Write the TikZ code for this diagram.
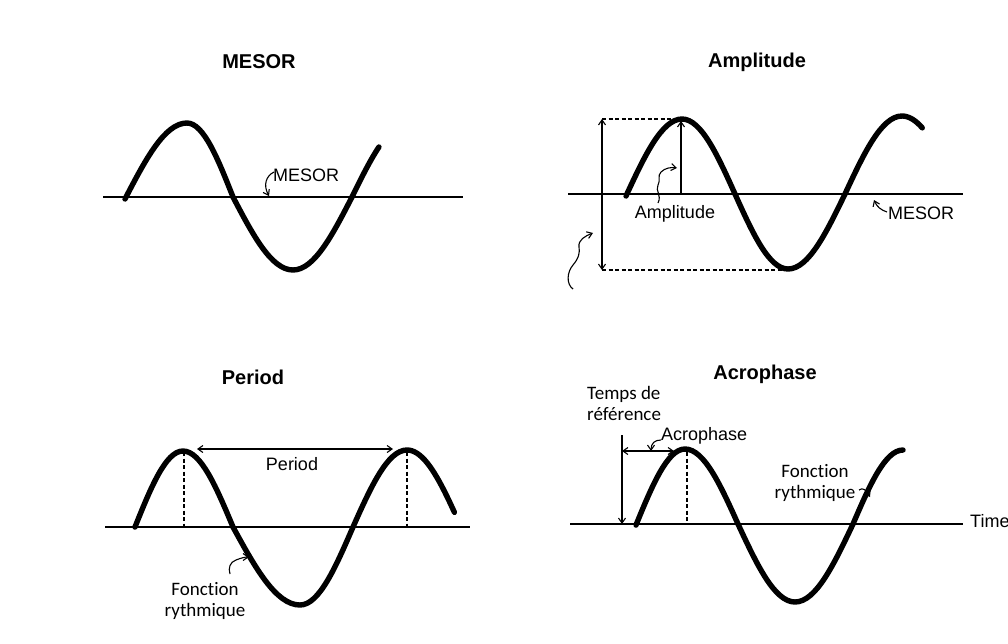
\documentclass[tikz,border=0pt]{standalone}
\usepackage{fontspec}
\setmainfont{Liberation Sans}
\newfontfamily\calfont[Ligatures={NoCommon,NoDiscretionary,NoRare}]{Carlito}
\usetikzlibrary{arrows.meta}
\tikzset{
  wave/.style={line width=5.4pt, line cap=round, line join=round},
  axisline/.style={line width=1.3pt},
  dimline/.style={line width=1.1pt},
  dashline/.style={line width=1.1pt, dash pattern=on 4pt off 2.5pt},
  tip/.style={-{Straight Barb[length=5pt,width=7pt,line width=1.1pt]}},
  bothtip/.style={{Straight Barb[length=5pt,width=7pt,line width=1.1pt]}-{Straight Barb[length=5pt,width=7pt,line width=1.1pt]}},
  ptitle/.style={font=\bfseries\fontsize{20}{24}\selectfont, inner sep=0pt},
  plabel/.style={font=\fontsize{18}{22}\selectfont, inner sep=0pt},
  clabel/.style={font=\calfont\fontsize{19}{21.5}\selectfont, inner sep=0pt, align=center},
  clabell/.style={font=\calfont\fontsize{19}{21.5}\selectfont, inner sep=0pt, align=left},
}
\begin{document}
\begin{tikzpicture}[x=1pt,y=-1pt]
\useasboundingbox (0,0) rectangle (1008,643);
\fill[white] (0,0) rectangle (1008,643);

% ---------------- Panel 1: MESOR ----------------
\node[ptitle] (t1) at (259,62) {MESOR};
\coordinate (b1l) at (103,197);
\coordinate (b1r) at (463,197);
\draw[axisline] (b1l) -- (b1r);
\draw[wave] (125,199) sin (187,123) cos (233,197) sin (293,270) cos (352,197)
  -- plot[domain=0:42.5, samples=15] ({352+57*\x/90},{197-74*sin(\x)});
\node[plabel, anchor=west] (m1) at (273,175) {MESOR};
\coordinate (m1a) at (274,172);
\coordinate (m1b) at (269,196);
\draw[dimline, tip] (m1a) .. controls (266,176) and (263,185) .. (m1b);

% ---------------- Panel 2: Amplitude ----------------
\node[ptitle] (t2) at (757,62) {Amplitude};
\coordinate (b2l) at (568,194);
\coordinate (b2r) at (963,194);
\draw[axisline] (b2l) -- (b2r);
\coordinate (pk2) at (682,119);
\coordinate (tr2) at (788,270);
\coordinate (dt2) at (602,119);
\coordinate (db2) at (602,270);
\draw[dashline] (dt2) -- (pk2);
\draw[dashline] (db2) -- (tr2);
\draw[dimline, bothtip] (dt2) -- (db2);
\coordinate (amb) at (681,193);
\coordinate (amt) at (681,121);
\draw[dimline, tip] (amb) -- (amt);
\draw[wave] (626,196) sin (682,119) cos (735,194) sin (788,269) cos (845,194) sin (902,116)
  -- plot[domain=0:32, samples=10] ({902+57*\x/90},{194-78*cos(\x)});
\node[plabel] (l2) at (675,214) {Amplitude};
\coordinate (sq1a) at (658,203);
\coordinate (sq1b) at (677,168);
\draw[dimline, tip] (sq1a) .. controls (662,195) and (655,191) .. (658,185)
  .. controls (661,180) and (657,176) .. (661,172) .. controls (665,168) and (671,167) .. (sq1b);
\node[plabel, anchor=west] (m2) at (888,213) {MESOR};
\coordinate (m2a) at (887,212);
\coordinate (m2b) at (874,200);
\draw[dimline, tip] (m2a) .. controls (881,210) and (877,207) .. (m2b);
\coordinate (sq2a) at (573,289);
\coordinate (sq2b) at (593,233);
\draw[dimline, tip] (sq2a) .. controls (566,284) and (567,272) .. (573,265)
  .. controls (579,258) and (580,252) .. (579,247) .. controls (578,240) and (585,236) .. (sq2b);

% ---------------- Panel 3: Period ----------------
\node[ptitle] (t3) at (253,377) {Period};
\coordinate (b3l) at (105,527);
\coordinate (b3r) at (470,527);
\draw[axisline] (b3l) -- (b3r);
\coordinate (pa) at (184,452);
\coordinate (pab) at (184,527);
\coordinate (pb) at (407,452);
\coordinate (pbb) at (407,527);
\draw[dashline] (pa) -- (pab);
\draw[dashline] (pb) -- (pbb);
\draw[wave] (135,527) sin (183,451) cos (233,527) sin (300,605) cos (353,527) sin (407,450)
  -- plot[domain=0:79, samples=20] ({407+54*\x/90},{527-77*cos(\x)});
\coordinate (pl) at (197,449);
\coordinate (pr) at (393,449);
\draw[dimline, bothtip] (pl) -- (pr);
\node[plabel] (l3) at (292,464) {Period};
\node[clabel] (f3) at (205,601) {Fonction\\rythmique};
\coordinate (sq3a) at (230,574);
\coordinate (sq3b) at (249,557);
\draw[dimline, tip] (sq3a) .. controls (228,568) and (230,562) .. (236,560) .. controls (241,558) and (245,557) .. (sq3b);

% ---------------- Panel 4: Acrophase ----------------
\node[ptitle] (t4) at (765,374) {Acrophase};
\coordinate (b4l) at (570,524);
\coordinate (b4r) at (963,524);
\draw[axisline] (b4l) -- (b4r);
\node[plabel, anchor=west] (tm) at (970,521) {Time};
\coordinate (ad) at (687,452);
\coordinate (adb) at (687,524);
\draw[dashline] (ad) -- (adb);
\draw[wave] (636,525) sin (685,449) cos (738,524) sin (795,602) cos (853,524) sin (903,450);
\coordinate (rt) at (622,435);
\coordinate (rb) at (622,524);
\draw[dimline, tip] (rt) -- (rb);
\coordinate (hl) at (622,451);
\coordinate (hr) at (674,451);
\draw[dimline, bothtip] (hl) -- (hr);
\node[clabell, anchor=north west] (tr) at (587,386) {Temps de\\référence};
\node[plabel, anchor=west] (l4) at (661,436) {Acrophase};
\coordinate (ah1) at (661,440);
\coordinate (ah2) at (651,451);
\draw[dimline, tip] (ah1) .. controls (655,440) and (651,443) .. (ah2);
\node[clabel] (f4) at (815,483) {Fonction\\rythmique};
\coordinate (fa) at (859,490);
\coordinate (fb) at (870,497);
\draw[dimline, tip] (fa) .. controls (863,487) and (866,490) .. (fb);
\end{tikzpicture}
\end{document}
